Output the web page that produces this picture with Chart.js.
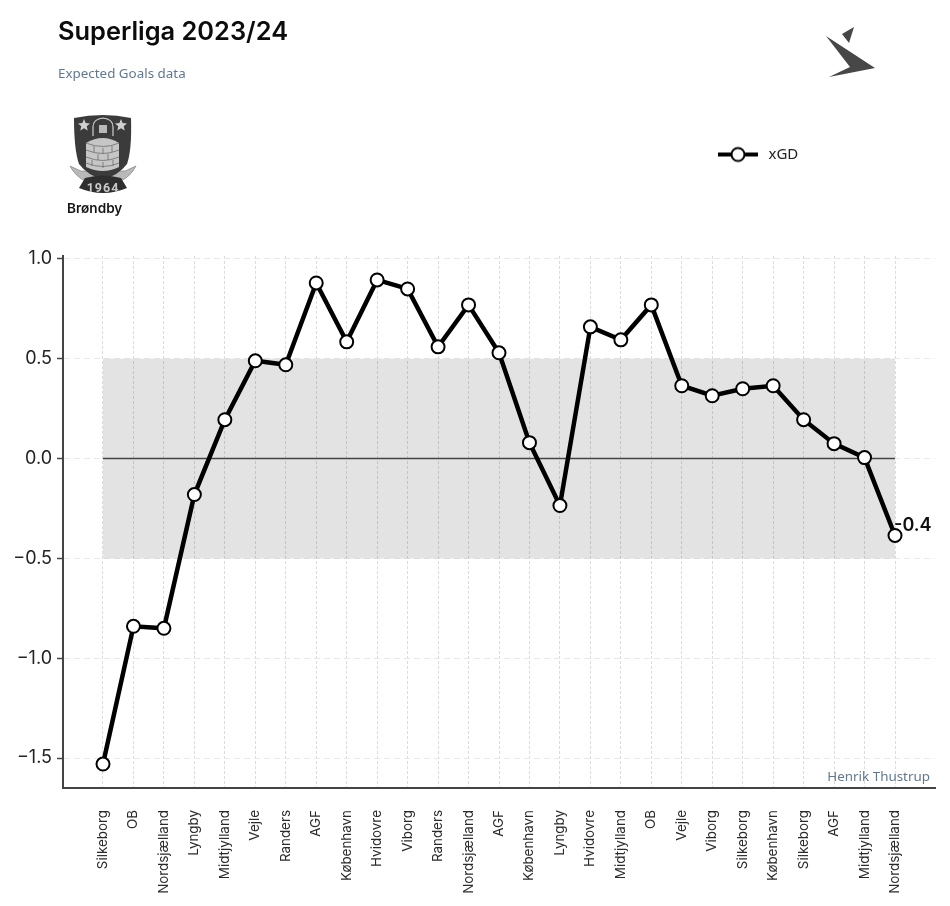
<!DOCTYPE html>
<html>
<head>
<meta charset="utf-8">
<title>Superliga 2023/24</title>
<script src="https://cdn.jsdelivr.net/npm/chart.js@4"></script>
<style>
    html, body { margin: 0; padding: 0; background: #fff; }
    #wrap { position: relative; width: 950px; height: 906px; overflow: hidden; }
    #plot { position: absolute; left: 0; top: 0; }
    .txt { position: absolute; white-space: nowrap; }
    #title { left: 58px; top: 15px; font: 600 25.4px Inter, sans-serif; color: #0c0c0c; }
    #subtitle { left: 58px; top: 64px; font: 13.4px "Noto Sans", sans-serif; color: #64788a; }
    #team { left: 67px; top: 200px; font: 600 13.6px Inter, sans-serif; color: #161616; }
    #credit { right: 20px; top: 767px; font: 13.4px "Noto Sans", sans-serif; color: #64788a; }
    svg { position: absolute; }
</style>
</head>
<body>
<div id="wrap">
    <canvas id="plot" width="950" height="906"></canvas>

    <div class="txt" id="title">Superliga 2023/24</div>
    <div class="txt" id="subtitle">Expected Goals data</div>
    <div class="txt" id="team">Brøndby</div>
    <div class="txt" id="credit">Henrik Thustrup</div>

    <!-- club crest -->
    <svg style="left:64px;top:110px" width="80" height="85" viewBox="64 110 80 85">
        <path d="M70 166 Q75 176 85 181 L121 181 Q131 176 136 166 L125 171 L81 171 Z" fill="#b9b9b9" stroke="#777" stroke-width="0.6"/>
        <path d="M74 118 Q103 112 131 118 Q132 150 127 164 Q118 176 103 179 Q88 176 79 164 Q74 150 74 118 Z" fill="#3b3b3b"/>
        <path d="M79 188 L85 178 Q103 173 121 178 L127 188 Q103 198 79 188 Z" fill="#2e2e2e"/>
        <text x="103" y="192" text-anchor="middle" font-family="Roboto, sans-serif" font-size="12.5" font-weight="700" fill="#c9c9c9" letter-spacing="1">1964</text>
        <path d="M84 119 L85.6 123 L90 123.4 L86.7 126.2 L87.7 130.5 L84 128.2 L80.3 130.5 L81.3 126.2 L78 123.4 L82.4 123 Z" fill="#cfcfcf"/>
        <path d="M121 119 L122.6 123 L127 123.4 L123.7 126.2 L124.7 130.5 L121 128.2 L117.3 130.5 L118.3 126.2 L115 123.4 L119.4 123 Z" fill="#cfcfcf"/>
        <path d="M93 136 L93 127 Q93 119 103 118 Q113 119 113 127 L113 136" fill="none" stroke="#cfcfcf" stroke-width="1.2"/>
        <rect x="99" y="125" width="8" height="8" fill="#b9b9b9"/>
        <path d="M86 143 Q103 133 119 143 L119 167 Q103 175 86 167 Z" fill="#c6c6c6"/>
        <g stroke="#6d6d6d" stroke-width="0.8" fill="none">
            <path d="M86 143 Q103 150 119 143"/>
            <path d="M86 150 Q103 157 119 150"/>
            <path d="M86 157 Q103 164 119 157"/>
            <path d="M86 163 Q103 170 119 163"/>
            <path d="M94 146 V152 M103 148 V154 M112 146 V152 M98 154 V160 M108 154 V160 M92 160 V166 M103 162 V168 M113 160 V166"/>
        </g>
    </svg>

    <!-- site mark -->
    <svg style="left:820px;top:22px" width="60" height="60" viewBox="820 22 60 60">
        <polygon points="826,36 875,68 829,77 850,67" fill="#474747"/>
        <polygon points="842,34 854,27 849,43" fill="#474747"/>
    </svg>
</div>

<script>
    // Round by round xGD for Brøndby
    const matches = ['Silkeborg', 'OB', 'Nordsjælland', 'Lyngby', 'Midtjylland', 'Vejle', 'Randers', 'AGF', 'København',
        'Hvidovre', 'Viborg', 'Randers', 'Nordsjælland', 'AGF', 'København', 'Lyngby', 'Hvidovre', 'Midtjylland',
        'OB', 'Vejle', 'Viborg', 'Silkeborg', 'København', 'Silkeborg', 'AGF', 'Midtjylland', 'Nordsjælland'];
    const xgd = [-1.53, -0.84, -0.85, -0.18, 0.195, 0.49, 0.47, 0.88, 0.585,
        0.895, 0.85, 0.56, 0.77, 0.53, 0.08, -0.235, 0.66, 0.595,
        0.77, 0.365, 0.315, 0.35, 0.365, 0.195, 0.075, 0.005, -0.385];
    const yTicks = [-1.5, -1.0, -0.5, 0.0, 0.5, 1.0];
    const bandTop = 0.5;
    const bandBottom = -0.5;

    const lastIndex = matches.length - 1;
    const edgeRows = (y) => [{ x: 0, y: y }, { x: lastIndex, y: y }];

    // Legend swatch: thick line with a hollow marker
    const swatch = document.createElement('canvas');
    swatch.width = 40;
    swatch.height = 18;
    const sw = swatch.getContext('2d');
    sw.strokeStyle = '#000';
    sw.lineWidth = 4;
    sw.beginPath();
    sw.moveTo(0, 9);
    sw.lineTo(40, 9);
    sw.stroke();
    sw.lineWidth = 2;
    sw.fillStyle = '#fff';
    sw.beginPath();
    sw.arc(20, 9, 6.5, 0, Math.PI * 2);
    sw.fill();
    sw.stroke();

    // The legend reserves its space above the plot, then sits up in the header
    const legendSpot = {
        id: 'legendSpot',
        afterLayout(chart) {
            const pad = chart.options.plugins.legend.labels.padding;
            const h = chart.legend.height;
            chart.legend.left = 715 - pad;
            chart.legend.top = 147 - pad;
            chart.legend.bottom = chart.legend.top + h;
        }
    };

    // Value of the latest match next to its marker
    const lastLabel = {
        id: 'lastLabel',
        afterDatasetsDraw(chart) {
            const px = chart.scales.x.getPixelForValue(lastIndex);
            const py = chart.scales.y.getPixelForValue(xgd[lastIndex]);
            const ctx = chart.ctx;
            ctx.save();
            ctx.font = '600 18px Inter, sans-serif';
            ctx.fillStyle = '#111';
            ctx.textAlign = 'left';
            ctx.textBaseline = 'middle';
            ctx.fillText(xgd[lastIndex].toFixed(1), px - 1, py - 10);
            ctx.restore();
        }
    };

    const ctx = document.getElementById('plot');
    Chart.defaults.font.family = 'Inter, sans-serif';

    let plot = new Chart(ctx, {
        type: 'line',
        data: {
            datasets: [{
                label: 'xGD',
                data: xgd.map((v, i) => ({ x: i, y: v })),
                borderColor: '#000',
                borderWidth: 4.5,
                pointRadius: 6.5,
                pointBorderWidth: 2,
                pointBackgroundColor: '#fff',
                pointBorderColor: '#000',
                tension: 0
            }, {
                label: 'zero',
                data: edgeRows(0),
                borderColor: '#444',
                borderWidth: 1.5,
                pointRadius: 0
            }, {
                label: 'bandTop',
                data: edgeRows(bandTop),
                borderWidth: 0,
                pointRadius: 0,
                fill: '+1',
                backgroundColor: 'rgba(0,0,0,0.11)'
            }, {
                label: 'bandBottom',
                data: edgeRows(bandBottom),
                borderWidth: 0,
                pointRadius: 0
            }]
        },
        options: {
            responsive: false,
            animation: false,
            layout: { padding: { top: 221, right: 15 } },
            plugins: {
                tooltip: { enabled: false },
                legend: {
                    position: 'top',
                    align: 'start',
                    labels: {
                        padding: 10,
                        usePointStyle: true,
                        pointStyleWidth: 46,
                        color: '#222',
                        font: { size: 15, family: '"Noto Sans", sans-serif' },
                        generateLabels: (chart) => [{
                            text: 'xGD',
                            pointStyle: swatch,
                            datasetIndex: 0,
                            fontColor: '#222',
                            lineWidth: 0
                        }]
                    }
                }
            },
            scales: {
                x: {
                    type: 'linear',
                    min: -1.313,
                    max: 27.313,
                    afterBuildTicks: (scale) => {
                        scale.ticks = matches.map((m, i) => ({ value: i }));
                    },
                    afterFit: (scale) => { scale.height = 118; },
                    border: { display: true, color: '#444', width: 2, dash: [3, 2] },
                    grid: {
                        color: '#dcdcdc',
                        lineWidth: 1,
                        drawTicks: false
                    },
                    ticks: {
                        autoSkip: false,
                        minRotation: 90,
                        maxRotation: 90,
                        padding: 22,
                        color: '#2a2a2a',
                        font: { size: 13.4 },
                        callback: (value) => matches[value]
                    }
                },
                y: {
                    min: -1.65,
                    max: 1.015,
                    afterBuildTicks: (scale) => {
                        scale.ticks = yTicks.map((v) => ({ value: v }));
                    },
                    afterFit: (scale) => { scale.width = 63; },
                    border: { display: true, color: '#444', width: 2, dash: [6, 4] },
                    grid: {
                        color: '#e8e8e8',
                        lineWidth: 1,
                        tickColor: '#444',
                        tickLength: 6,
                        tickWidth: 1.5,
                        tickBorderDash: []
                    },
                    ticks: {
                        padding: 5,
                        color: '#222',
                        font: { size: 18 },
                        callback: (value) => value.toFixed(1).replace('-', '\u2212')
                    }
                }
            }
        },
        plugins: [legendSpot, lastLabel]
    });
</script>
</body>
</html>
